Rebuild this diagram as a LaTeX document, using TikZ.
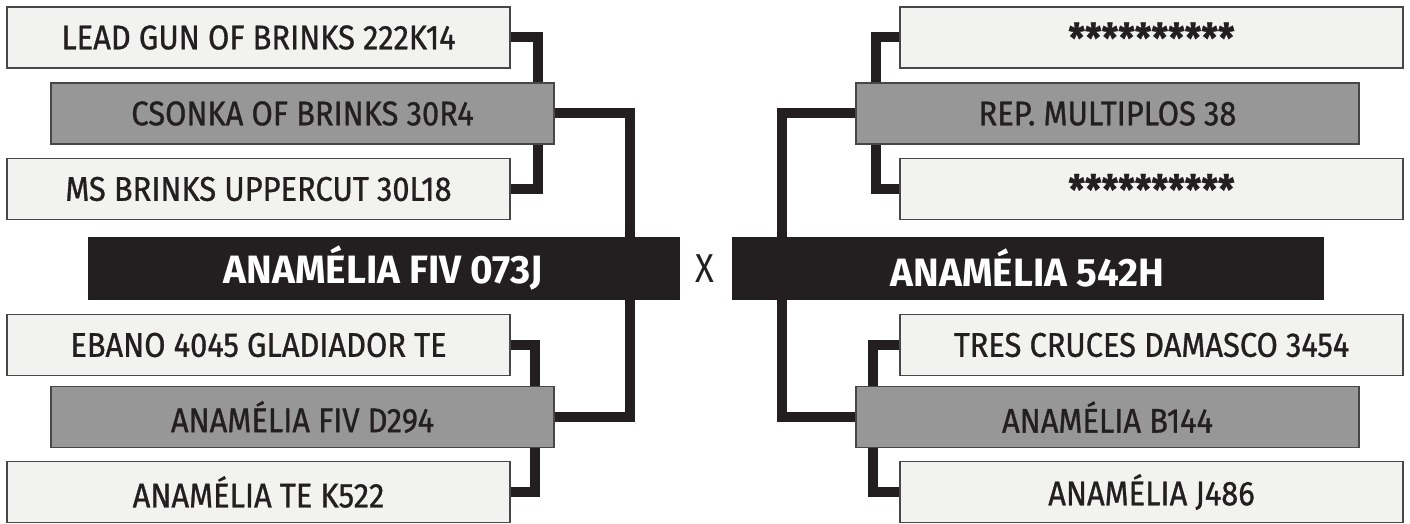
\documentclass[tikz,border=0pt]{standalone}
\usepackage{fontspec}
\setmainfont{Fira Sans}[FakeStretch=0.86]
\newfontfamily\entryfont{Fira Sans}[FakeStretch=0.9, FakeBold=0.9]
\usepackage{tikz}
\usetikzlibrary{positioning, calc, backgrounds}
\definecolor{cInk}{RGB}{35,31,32}
\definecolor{cEdge}{RGB}{72,70,70}
\definecolor{cFillPale}{RGB}{242,242,241}
\definecolor{cFillMid}{RGB}{151,151,151}
\tikzset{
  entry/.style={rectangle, draw=cEdge, line width=0.8pt, minimum width=10.06cm,
                minimum height=1.22cm, inner sep=0pt, text=cInk,
                font=\entryfont\fontsize{19.5}{22}\selectfont},
  entryP/.style={entry, fill=cFillPale},
  entryM/.style={entry, fill=cFillMid},
  finalist/.style={rectangle, draw=cInk, fill=cInk, minimum width=11.82cm,
                   minimum height=1.24cm, inner sep=0pt, text=white,
                   font=\bfseries\fontsize{22.5}{24}\selectfont\addfontfeature{FakeStretch=0.98}},
  bracket/.style={draw=cInk, line width=0.2cm, line join=miter},
}
\newcommand{\hidden}{{\bfseries\fontsize{23}{24}\selectfont\raisebox{-0.12em}{**********}}}

\begin{document}
\begin{tikzpicture}
\useasboundingbox (0,0) rectangle (28.2,-10.48);

%% ============================================================
%%  COLUMN POSITIONS
%%  left: pale / mid / final,  right: final / mid / pale
%% ============================================================
\def\LPx{5.17}
\def\LMx{6.05}
\def\LFx{7.67}
\def\RFx{20.55}
\def\RMx{22.15}
\def\RPx{23.03}

%% ----- Left half -----
\node[entryP] (leadgun) at (\LPx, -0.75) {LEAD GUN OF BRINKS 222K14};
\node[entryM] (csonka)  at (\LMx, -2.27) {CSONKA OF BRINKS 30R4};
\node[entryP] (msbrinks) at (\LPx, -3.78) {MS BRINKS UPPERCUT 30L18};
\node[finalist] (fiv073) at (\LFx, -5.36) {ANAMÉLIA FIV 073J};
\node[entryP] (ebano)   at (\LPx, -6.90) {EBANO 4045 GLADIADOR TE};
\node[entryM] (fivd294) at (\LMx, -8.34) {ANAMÉLIA FIV D294};
\node[entryP] (tek522)  at (\LPx, -9.84) {ANAMÉLIA TE K522};

%% ----- Right half -----
\node[entryP] (starsA)  at (\RPx, -0.75) {\hidden};
\node[entryM] (multiplos) at (\RMx, -2.27) {REP. MULTIPLOS 38};
\node[entryP] (starsB)  at (\RPx, -3.78) {\hidden};
\node[finalist] (h542)  at (\RFx, -5.36) {ANAMÉLIA 542H};
\node[entryP] (cruces)  at (\RPx, -6.90) {TRES CRUCES DAMASCO 3454};
\node[entryM] (b144)    at (\RMx, -8.34) {ANAMÉLIA B144};
\node[entryP] (j486)    at (\RPx, -9.84) {ANAMÉLIA J486};

%% ----- versus mark -----
\node[text=cInk, font=\fontsize{23}{26}\selectfont] (versus) at (14.1, -5.38) {X};

%% ============================================================
%%  Brackets (behind the boxes)
%% ============================================================
\begin{scope}[on background layer]
  \draw[bracket] (leadgun.east) -- ++(0.54,0) |- (msbrinks.east);
  \draw[bracket] (csonka.east) -- ++(1.5,0) |- (fivd294.east);
  \draw[bracket] (ebano.east) -- ++(0.48,0) |- (tek522.east);
  \draw[bracket] (starsA.west) -- ++(-0.46,0) |- (starsB.west);
  \draw[bracket] (multiplos.west) -- ++(-1.46,0) |- (b144.west);
  \draw[bracket] (cruces.west) -- ++(-0.52,0) |- (j486.west);
\end{scope}

\end{tikzpicture}
\end{document}
